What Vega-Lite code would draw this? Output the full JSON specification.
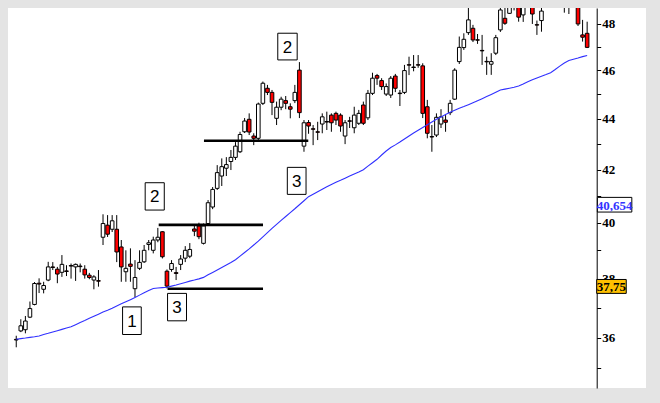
{
  "$schema": "https://vega.github.io/schema/vega-lite/v6.json",
  "width": 638,
  "height": 380,
  "autosize": {"type": "none"},
  "padding": {"left": 8, "top": 8, "right": 14, "bottom": 15},
  "background": "#e4e4e4",
  "config": {
    "view": {"fill": "white", "stroke": null},
    "axis": {"grid": false}
  },
  "datasets": {
    "candles": [
      {"i":0,"o":35.94,"h":36.06,"l":35.68,"c":35.92,"ma":35.945},
      {"i":1,"o":36.22,"h":36.61,"l":36.18,"c":36.39,"ma":35.965},
      {"i":2,"o":36.26,"h":36.72,"l":36.14,"c":36.55,"ma":35.984},
      {"i":3,"o":36.68,"h":37.21,"l":36.65,"c":36.97,"ma":36.007},
      {"i":4,"o":37.11,"h":37.88,"l":37.08,"c":37.83,"ma":36.027},
      {"i":5,"o":37.84,"h":38.01,"l":37.5,"c":37.81,"ma":36.054},
      {"i":6,"o":37.63,"h":37.89,"l":37.49,"c":37.76,"ma":36.101},
      {"i":7,"o":37.95,"h":38.59,"l":37.91,"c":38.41,"ma":36.141},
      {"i":8,"o":38.41,"h":38.58,"l":38.3,"c":38.39,"ma":36.185},
      {"i":9,"o":38.33,"h":38.41,"l":37.84,"c":38.16,"ma":36.228},
      {"i":10,"o":38.22,"h":38.83,"l":38.06,"c":38.5,"ma":36.272},
      {"i":11,"o":38.27,"h":38.47,"l":38.09,"c":38.25,"ma":36.316},
      {"i":12,"o":38.46,"h":38.53,"l":38.0,"c":38.44,"ma":36.359},
      {"i":13,"o":38.41,"h":38.53,"l":37.92,"c":38.5,"ma":36.429},
      {"i":14,"o":38.44,"h":38.53,"l":38.22,"c":38.42,"ma":36.5},
      {"i":15,"o":38.33,"h":38.47,"l":38.0,"c":38.13,"ma":36.567},
      {"i":16,"o":38.12,"h":38.2,"l":37.98,"c":38.04,"ma":36.641},
      {"i":17,"o":37.95,"h":38.12,"l":37.63,"c":38.06,"ma":36.711},
      {"i":18,"o":37.93,"h":38.3,"l":37.72,"c":37.91,"ma":36.781},
      {"i":19,"o":39.47,"h":40.31,"l":39.19,"c":39.97,"ma":36.852},
      {"i":20,"o":39.91,"h":40.28,"l":39.48,"c":39.58,"ma":36.912},
      {"i":21,"o":39.76,"h":40.28,"l":39.66,"c":40.07,"ma":36.982},
      {"i":22,"o":39.76,"h":40.28,"l":38.58,"c":38.94,"ma":37.061},
      {"i":23,"o":39.12,"h":39.37,"l":37.89,"c":38.41,"ma":37.133},
      {"i":24,"o":38.24,"h":39.0,"l":37.89,"c":38.36,"ma":37.202},
      {"i":25,"o":38.51,"h":39.07,"l":37.89,"c":38.43,"ma":37.274},
      {"i":26,"o":37.65,"h":38.65,"l":37.36,"c":38.04,"ma":37.35},
      {"i":27,"o":38.36,"h":39.0,"l":38.3,"c":38.57,"ma":37.429},
      {"i":28,"o":38.59,"h":39.19,"l":38.55,"c":39.0,"ma":37.509},
      {"i":29,"o":39.21,"h":39.37,"l":39.0,"c":39.27,"ma":37.588},
      {"i":30,"o":39.0,"h":39.49,"l":38.89,"c":39.37,"ma":37.66},
      {"i":31,"o":39.37,"h":39.81,"l":39.29,"c":39.47,"ma":37.674},
      {"i":32,"o":39.67,"h":39.69,"l":38.71,"c":38.77,"ma":37.688},
      {"i":33,"o":38.26,"h":38.32,"l":37.66,"c":37.74,"ma":37.701},
      {"i":34,"o":38.32,"h":38.65,"l":38.24,"c":38.53,"ma":37.739},
      {"i":35,"o":38.21,"h":38.41,"l":37.95,"c":38.18,"ma":37.777},
      {"i":36,"o":38.5,"h":38.83,"l":38.3,"c":38.69,"ma":37.822},
      {"i":37,"o":38.72,"h":39.15,"l":38.58,"c":39.0,"ma":37.867},
      {"i":38,"o":38.79,"h":39.26,"l":38.72,"c":39.03,"ma":37.912},
      {"i":39,"o":39.77,"h":39.88,"l":39.51,"c":39.69,"ma":37.949},
      {"i":40,"o":39.88,"h":40.0,"l":39.4,"c":39.49,"ma":37.991},
      {"i":41,"o":39.25,"h":39.97,"l":39.21,"c":39.88,"ma":38.043},
      {"i":42,"o":39.97,"h":40.84,"l":39.91,"c":40.74,"ma":38.132},
      {"i":43,"o":40.58,"h":41.33,"l":40.5,"c":41.24,"ma":38.217},
      {"i":44,"o":41.28,"h":42.17,"l":41.22,"c":41.88,"ma":38.302},
      {"i":45,"o":41.75,"h":42.43,"l":41.37,"c":42.11,"ma":38.39},
      {"i":46,"o":42.05,"h":42.48,"l":41.75,"c":42.19,"ma":38.478},
      {"i":47,"o":42.31,"h":42.76,"l":41.98,"c":42.47,"ma":38.567},
      {"i":48,"o":42.47,"h":43.07,"l":42.37,"c":42.91,"ma":38.666},
      {"i":49,"o":42.69,"h":43.48,"l":42.64,"c":43.37,"ma":38.793},
      {"i":50,"o":43.48,"h":44.03,"l":43.43,"c":43.91,"ma":38.92},
      {"i":51,"o":43.98,"h":44.22,"l":43.35,"c":43.47,"ma":39.049},
      {"i":52,"o":43.31,"h":43.42,"l":42.95,"c":43.22,"ma":39.19},
      {"i":53,"o":43.22,"h":44.66,"l":43.15,"c":44.6,"ma":39.328},
      {"i":54,"o":44.63,"h":45.53,"l":44.56,"c":45.46,"ma":39.48},
      {"i":55,"o":45.25,"h":45.39,"l":44.97,"c":45.08,"ma":39.636},
      {"i":56,"o":45.08,"h":45.18,"l":44.15,"c":44.67,"ma":39.789},
      {"i":57,"o":44.02,"h":44.7,"l":43.75,"c":44.47,"ma":39.941},
      {"i":58,"o":44.47,"h":44.9,"l":44.35,"c":44.8,"ma":40.088},
      {"i":59,"o":44.74,"h":44.93,"l":44.39,"c":44.63,"ma":40.229},
      {"i":60,"o":44.49,"h":44.63,"l":44.02,"c":44.39,"ma":40.374},
      {"i":61,"o":44.74,"h":45.39,"l":44.64,"c":45.08,"ma":40.515},
      {"i":62,"o":46.01,"h":46.35,"l":44.03,"c":44.25,"ma":40.664},
      {"i":63,"o":42.91,"h":43.95,"l":42.69,"c":43.84,"ma":40.813},
      {"i":64,"o":43.85,"h":43.95,"l":43.4,"c":43.71,"ma":40.966},
      {"i":65,"o":43.6,"h":43.75,"l":42.95,"c":43.58,"ma":41.056},
      {"i":66,"o":43.48,"h":43.88,"l":43.15,"c":43.46,"ma":41.151},
      {"i":67,"o":43.79,"h":44.22,"l":43.42,"c":44.08,"ma":41.247},
      {"i":68,"o":43.89,"h":44.29,"l":43.55,"c":43.87,"ma":41.341},
      {"i":69,"o":44.15,"h":44.22,"l":43.48,"c":43.84,"ma":41.429},
      {"i":70,"o":44.22,"h":44.29,"l":43.75,"c":43.95,"ma":41.509},
      {"i":71,"o":44.15,"h":44.22,"l":43.48,"c":43.71,"ma":41.585},
      {"i":72,"o":43.31,"h":43.95,"l":42.99,"c":43.84,"ma":41.666},
      {"i":73,"o":43.92,"h":44.08,"l":43.63,"c":43.9,"ma":41.75},
      {"i":74,"o":43.64,"h":44.49,"l":43.42,"c":44.15,"ma":41.826},
      {"i":75,"o":43.82,"h":44.36,"l":43.75,"c":44.22,"ma":41.902},
      {"i":76,"o":44.56,"h":44.7,"l":43.75,"c":43.82,"ma":41.994},
      {"i":77,"o":44.04,"h":45.18,"l":43.95,"c":45.04,"ma":42.13},
      {"i":78,"o":45.04,"h":45.9,"l":44.97,"c":45.67,"ma":42.263},
      {"i":79,"o":45.78,"h":45.85,"l":45.39,"c":45.67,"ma":42.395},
      {"i":80,"o":45.57,"h":45.67,"l":45.18,"c":45.32,"ma":42.563},
      {"i":81,"o":45.01,"h":45.45,"l":44.93,"c":45.32,"ma":42.719},
      {"i":82,"o":44.97,"h":45.76,"l":44.85,"c":45.67,"ma":42.856},
      {"i":83,"o":45.76,"h":45.85,"l":45.09,"c":45.25,"ma":42.961},
      {"i":84,"o":45.05,"h":45.18,"l":44.52,"c":45.03,"ma":43.072},
      {"i":85,"o":45.08,"h":46.23,"l":45.01,"c":45.99,"ma":43.192},
      {"i":86,"o":46.24,"h":46.58,"l":45.8,"c":46.22,"ma":43.312},
      {"i":87,"o":46.14,"h":46.65,"l":45.96,"c":46.12,"ma":43.431},
      {"i":88,"o":46.24,"h":46.65,"l":46.11,"c":46.22,"ma":43.539},
      {"i":89,"o":46.19,"h":46.3,"l":44.03,"c":44.22,"ma":43.651},
      {"i":90,"o":44.49,"h":44.77,"l":43.22,"c":43.42,"ma":43.763},
      {"i":91,"o":43.29,"h":43.75,"l":42.69,"c":43.27,"ma":43.871},
      {"i":92,"o":43.35,"h":44.22,"l":43.27,"c":44.06,"ma":43.983},
      {"i":93,"o":43.79,"h":44.39,"l":43.63,"c":44.08,"ma":44.076},
      {"i":94,"o":43.95,"h":44.15,"l":43.48,"c":43.86,"ma":44.17},
      {"i":95,"o":44.25,"h":44.77,"l":44.15,"c":44.63,"ma":44.264},
      {"i":96,"o":44.8,"h":46.09,"l":44.77,"c":46.01,"ma":44.346},
      {"i":97,"o":46.37,"h":47.45,"l":46.27,"c":46.98,"ma":44.424},
      {"i":98,"o":46.97,"h":47.59,"l":46.87,"c":47.33,"ma":44.497},
      {"i":99,"o":47.62,"h":48.75,"l":47.52,"c":48.18,"ma":44.575},
      {"i":100,"o":47.81,"h":47.96,"l":47.21,"c":47.3,"ma":44.656},
      {"i":101,"o":47.31,"h":47.56,"l":47.13,"c":47.29,"ma":44.738},
      {"i":102,"o":46.85,"h":47.52,"l":46.23,"c":46.83,"ma":44.82},
      {"i":103,"o":46.38,"h":46.58,"l":45.81,"c":46.36,"ma":44.906},
      {"i":104,"o":46.26,"h":46.73,"l":45.81,"c":46.37,"ma":44.996},
      {"i":105,"o":46.73,"h":47.52,"l":46.65,"c":47.4,"ma":45.087},
      {"i":106,"o":47.74,"h":48.75,"l":47.65,"c":48.62,"ma":45.179},
      {"i":107,"o":48.25,"h":48.8,"l":47.96,"c":48.03,"ma":45.215},
      {"i":108,"o":48.47,"h":48.95,"l":48.44,"c":48.8,"ma":45.252},
      {"i":109,"o":48.85,"h":49.2,"l":48.6,"c":49.05,"ma":45.29},
      {"i":110,"o":48.9,"h":49.1,"l":48.1,"c":48.3,"ma":45.344},
      {"i":111,"o":48.4,"h":49.1,"l":48.09,"c":48.9,"ma":45.428},
      {"i":112,"o":48.9,"h":49.4,"l":48.8,"c":49.2,"ma":45.518},
      {"i":113,"o":49.0,"h":49.2,"l":48.0,"c":48.44,"ma":45.605},
      {"i":114,"o":47.97,"h":48.15,"l":47.52,"c":47.95,"ma":45.68},
      {"i":115,"o":48.15,"h":48.75,"l":47.66,"c":48.57,"ma":45.751},
      {"i":116,"o":48.85,"h":49.3,"l":48.8,"c":49.1,"ma":45.822},
      {"i":117,"o":49.1,"h":49.4,"l":48.85,"c":48.95,"ma":45.902},
      {"i":118,"o":48.95,"h":49.3,"l":48.8,"c":49.2,"ma":46.036},
      {"i":119,"o":49.2,"h":49.4,"l":48.85,"c":49.0,"ma":46.177},
      {"i":120,"o":49.0,"h":49.3,"l":48.5,"c":48.9,"ma":46.314},
      {"i":121,"o":48.9,"h":49.3,"l":48.44,"c":49.1,"ma":46.419},
      {"i":122,"o":49.0,"h":49.2,"l":48.8,"c":48.85,"ma":46.47},
      {"i":123,"o":49.0,"h":49.2,"l":47.91,"c":48.0,"ma":46.522},
      {"i":124,"o":47.52,"h":48.18,"l":47.23,"c":47.42,"ma":46.582},
      {"i":125,"o":47.59,"h":48.1,"l":46.95,"c":46.98,"ma":46.633}
    ],
    "levels": [
      {"from":33.13,"to":54.03,"price":37.65},
      {"from":31.19,"to":54.03,"price":39.92},
      {"from":41.1,"to":63.94,"price":43.124}
    ],
    "boxes": [
      {"x1":23.28,"x2":27.37,"top":37.027,"bottom":36.101,"xm":25.33,"ym":36.564,"label":"1"},
      {"x1":33.13,"x2":37.28,"top":37.488,"bottom":36.557,"xm":35.2,"ym":37.016,"label":"3"},
      {"x1":28.23,"x2":32.41,"top":41.494,"bottom":40.467,"xm":30.32,"ym":40.975,"label":"2"},
      {"x1":57.26,"x2":61.51,"top":47.594,"bottom":46.442,"xm":59.38,"ym":47.012,"label":"2"},
      {"x1":59.35,"x2":63.45,"top":42.083,"bottom":41.053,"xm":61.4,"ym":41.567,"label":"3"}
    ],
    "tags": [
      {"x1":127.24,"x2":134.78,"top":40.94,"bottom":40.393,"xm":131.0,"ym":40.666,"label":"40,654"},
      {"x1":127.09,"x2":133.56,"top":37.97,"bottom":37.488,"xm":130.33,"ym":37.729,"label":"37,75"}
    ]
  },
  "layer": [
    {
      "data": {"name": "candles"},
      "mark": {"type": "rule", "color": "black", "strokeWidth": 1, "clip": true},
      "encoding": {
        "x": {"field": "i", "type": "quantitative", "scale": {"type": "linear", "domain": [-0.711, 136.79], "nice": false, "zero": false}, "axis": null},
        "y": {"field": "l", "type": "quantitative", "scale": {"type": "log", "domain": [34.372, 48.708], "nice": false},
              "axis": {"orient": "right", "offset": -49.3, "values": [35,36,37,38,39,40,41,42,43,44,45,46,47,48], "format": "d",
                       "labelExpr": "datum.value % 2 == 0 ? datum.label : ''", "domainColor": "black", "domainWidth": 1,
                       "tickColor": "black", "tickSize": 4, "tickWidth": 1, "labelFont": "Liberation Serif", "labelFontWeight": "bold",
                       "labelFontSize": 13, "labelColor": "black", "labelPadding": 1, "title": null, "labelOverlap": false, "labelBound": false, "labelFlush": false}},
        "y2": {"field": "h"}
      }
    },
    {
      "data": {"name": "candles"},
      "mark": {"type": "bar", "width": 3.6, "stroke": "black", "strokeWidth": 1, "clip": true},
      "encoding": {
        "x": {"field": "i", "type": "quantitative", "scale": {"type": "linear", "domain": [-0.711, 136.79], "nice": false, "zero": false}, "axis": null},
        "y": {"field": "o", "type": "quantitative", "scale": {"type": "log", "domain": [34.372, 48.708], "nice": false}},
        "y2": {"field": "c"},
        "fill": {"condition": {"test": "datum.c < datum.o", "value": "#ff0000"}, "value": "#ffffff"}
      }
    },
    {
      "data": {"name": "candles"},
      "mark": {"type": "line", "color": "#3030ff", "strokeWidth": 1.1, "clip": true},
      "encoding": {
        "x": {"field": "i", "type": "quantitative", "scale": {"type": "linear", "domain": [-0.711, 136.79], "nice": false, "zero": false}, "axis": null},
        "y": {"field": "ma", "type": "quantitative", "scale": {"type": "log", "domain": [34.372, 48.708], "nice": false}}
      }
    },
    {
      "data": {"name": "levels"},
      "mark": {"type": "rule", "color": "black", "strokeWidth": 2.6},
      "encoding": {
        "x": {"field": "from", "type": "quantitative", "scale": {"type": "linear", "domain": [-0.711, 136.79], "nice": false, "zero": false}, "axis": null},
        "x2": {"field": "to"},
        "y": {"field": "price", "type": "quantitative", "scale": {"type": "log", "domain": [34.372, 48.708], "nice": false}}
      }
    },
    {
      "data": {"name": "boxes"},
      "mark": {"type": "rect", "fill": "white", "stroke": "black", "strokeWidth": 1},
      "encoding": {
        "x": {"field": "x1", "type": "quantitative", "scale": {"type": "linear", "domain": [-0.711, 136.79], "nice": false, "zero": false}, "axis": null},
        "x2": {"field": "x2"},
        "y": {"field": "top", "type": "quantitative", "scale": {"type": "log", "domain": [34.372, 48.708], "nice": false}},
        "y2": {"field": "bottom"}
      }
    },
    {
      "data": {"name": "boxes"},
      "mark": {"type": "text", "font": "Liberation Sans", "fontSize": 17, "color": "black", "baseline": "middle", "align": "center", "dy": 1},
      "encoding": {
        "x": {"field": "xm", "type": "quantitative", "scale": {"type": "linear", "domain": [-0.711, 136.79], "nice": false, "zero": false}, "axis": null},
        "y": {"field": "ym", "type": "quantitative", "scale": {"type": "log", "domain": [34.372, 48.708], "nice": false}},
        "text": {"field": "label"}
      }
    },
    {
      "data": {"name": "tags"},
      "mark": {"type": "rect", "stroke": "black", "strokeWidth": 1},
      "encoding": {
        "x": {"field": "x1", "type": "quantitative", "scale": {"type": "linear", "domain": [-0.711, 136.79], "nice": false, "zero": false}, "axis": null},
        "x2": {"field": "x2"},
        "y": {"field": "top", "type": "quantitative", "scale": {"type": "log", "domain": [34.372, 48.708], "nice": false}},
        "y2": {"field": "bottom"},
        "fill": {"field": "label", "type": "nominal", "scale": {"domain": ["40,654", "37,75"], "range": ["#ffffff", "#ffc000"]}, "legend": null}
      }
    },
    {
      "data": {"name": "tags"},
      "mark": {"type": "text", "font": "Liberation Serif", "fontWeight": "bold", "fontSize": 13, "baseline": "middle", "align": "center", "dy": 1},
      "encoding": {
        "x": {"field": "xm", "type": "quantitative", "scale": {"type": "linear", "domain": [-0.711, 136.79], "nice": false, "zero": false}, "axis": null},
        "y": {"field": "ym", "type": "quantitative", "scale": {"type": "log", "domain": [34.372, 48.708], "nice": false}},
        "text": {"field": "label"},
        "color": {"field": "label", "type": "nominal", "scale": {"domain": ["40,654", "37,75"], "range": ["#3333ff", "#000000"]}, "legend": null}
      }
    }
  ],
  "resolve": {"scale": {"fill": "independent", "color": "independent"}}
}
